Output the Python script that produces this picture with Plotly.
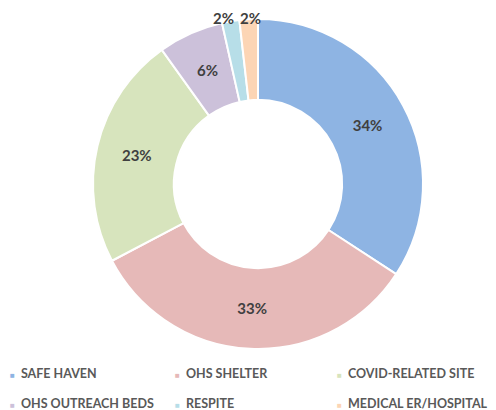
import math
import plotly.graph_objects as go

categories = ["SAFE HAVEN", "OHS SHELTER", "COVID-RELATED SITE",
              "OHS OUTREACH BEDS", "RESPITE", "MEDICAL ER/HOSPITAL"]
shares = [34.2, 33.1, 22.8, 6.4, 1.7, 1.8]
colors = ["#8EB4E3", "#E6B9B8", "#D7E4BD", "#CCC1DA", "#B7DEE8", "#FCD5B5"]
# where each percentage label goes: plotly inside text, ring centre, or outside
placement = ["inside", "inside", "inside", "ring", "outside", "outside"]

# page body has an 8px margin, so the figure is drawn 8px in from the corner
OFF = 8
W, H = 496 - OFF, 410 - OFF
cx, cy, r = 258 - OFF, 184 - OFF, 165
HOLE = 0.51

total = sum(shares)
pct_text = [f"{round(100 * v / total)}%" for v in shares]
label_font = dict(family="Lato", size=15, color="#404040", weight="bold")

fig = go.Figure(go.Pie(
    labels=categories,
    values=shares,
    sort=False,
    direction="clockwise",
    rotation=0,
    hole=HOLE,
    marker=dict(colors=colors, line=dict(color="white", width=2)),
    text=[(t if p == "inside" else "") for p, t in zip(placement, pct_text)],
    textinfo="text",
    textposition="inside",
    insidetextorientation="horizontal",
    textfont=label_font,
    showlegend=False,
    domain=dict(x=[(cx - r) / W, (cx + r) / W],
                y=[1 - (cy + r) / H, 1 - (cy - r) / H]),
))

# labels placed from each slice's mid angle
cum = 0.0
ring, outs = [], []
for v, p, t in zip(shares, placement, pct_text):
    mid = (cum + v / 2) / total * 2 * math.pi
    cum += v
    if p == "ring":
        R = r * (1 + HOLE) / 2
        ring.append([cx + R * math.sin(mid), cy - R * math.cos(mid), t])
    elif p == "outside":
        R = r + 5
        outs.append([cx + R * math.sin(mid), cy - R * math.cos(mid), t])
min_gap = 27
if len(outs) == 2 and outs[1][0] - outs[0][0] < min_gap:
    m = (outs[0][0] + outs[1][0]) / 2
    outs[0][0], outs[1][0] = m - min_gap / 2 - 2, m + min_gap / 2 - 2
half_box = 10  # keep the label box inside the figure
for x, y, t in ring + outs:
    y = max(y, half_box)
    fig.add_annotation(x=x / W, y=1 - y / H, xref="paper", yref="paper",
                       xanchor="center", yanchor="middle", showarrow=False,
                       text=t, font=label_font, borderpad=0)

# legend drawn as annotations, 3 columns x 2 rows
col_x = [0, 165, 327]
row_y = [373 - OFF, 403 - OFF]
for i, (name, c) in enumerate(zip(categories, colors)):
    x = col_x[i % 3]
    y = row_y[i // 3]
    fig.add_annotation(
        x=x / W, y=1 - y / H, xref="paper", yref="paper",
        xanchor="left", yanchor="middle", showarrow=False,
        text=f'<span style="color:{c};font-size:8px">■</span>  {name}',
        font=dict(family="Lato", size=12.5, color="#595959", weight="bold"),
    )

fig.update_layout(
    width=W, height=H,
    margin=dict(l=0, r=0, t=0, b=0),
    paper_bgcolor="white", plot_bgcolor="white",
)

fig.write_html("out.html")
